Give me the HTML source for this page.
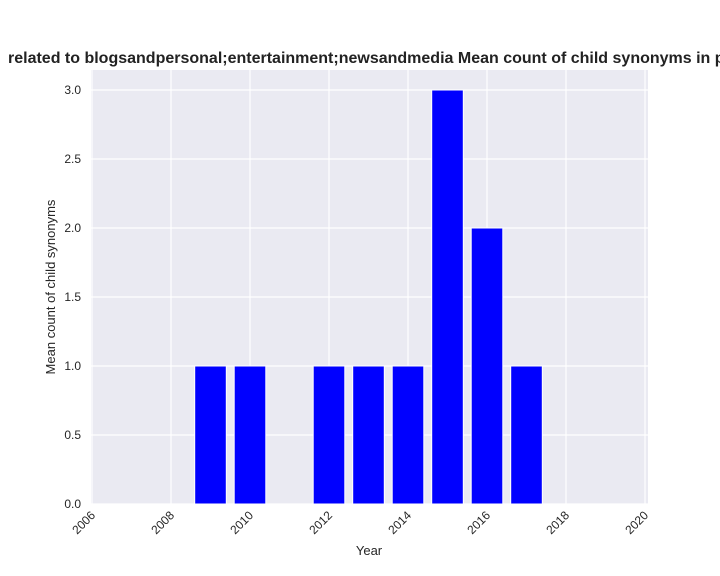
<!DOCTYPE html>
<html><head><meta charset="utf-8"><style>
html,body{margin:0;padding:0;background:#fff;}
svg{display:block;font-family:"Liberation Sans",Arial,sans-serif;}
</style></head><body>
<svg id="chart" width="720" height="576">
<text x="8" y="63" font-size="16" font-weight="bold" fill="#222">related to blogsandpersonal;entertainment;newsandmedia Mean count of child synonyms in per year</text>
<rect x="91" y="70" width="557" height="434" fill="#eaeaf2"/>
<g id="grid"></g>
<g id="bars"></g>
<g id="ticks"></g>
<text x="369" y="555" font-size="13" text-anchor="middle" fill="#262626">Year</text>
<text transform="translate(55,287) rotate(-90)" font-size="13" text-anchor="middle" fill="#262626">Mean count of child synonyms</text>
</svg>
<script>
const years = [2009, 2010, 2012, 2013, 2014, 2015, 2016, 2017];
const values = [1, 1, 1, 1, 1, 3, 2, 1];
const xTicks = [2006, 2008, 2010, 2012, 2014, 2016, 2018, 2020];
const yTicks = [0, 0.5, 1.0, 1.5, 2.0, 2.5, 3.0];
const NS = "http://www.w3.org/2000/svg";
function x(v){ return 92 + (v - 2006) * 39.5; }
function y(v){ return 504 - v * 138; }
const grid = document.getElementById('grid');
const bars = document.getElementById('bars');
const ticks = document.getElementById('ticks');
xTicks.forEach(t => {
  const l = document.createElementNS(NS, 'line');
  l.setAttribute('x1', x(t)); l.setAttribute('x2', x(t));
  l.setAttribute('y1', 70); l.setAttribute('y2', 504);
  l.setAttribute('stroke', '#fff'); l.setAttribute('stroke-width', '1.2');
  
  
  grid.appendChild(l);
  const tx = document.createElementNS(NS, 'text');
  tx.setAttribute('transform', 'translate(' + (x(t) + 4) + ',516) rotate(-45)');
  tx.setAttribute('text-anchor', 'end');
  tx.setAttribute('font-size', '12');
  tx.setAttribute('fill', '#262626');
  tx.textContent = t;
  
  
  ticks.appendChild(tx);
});
yTicks.forEach(t => {
  const l = document.createElementNS(NS, 'line');
  l.setAttribute('x1', 91); l.setAttribute('x2', 648);
  l.setAttribute('y1', y(t)); l.setAttribute('y2', y(t));
  l.setAttribute('stroke', '#fff'); l.setAttribute('stroke-width', '1.2');
  
  
  grid.appendChild(l);
  const tx = document.createElementNS(NS, 'text');
  tx.setAttribute('x', 81); tx.setAttribute('y', y(t) + 4);
  tx.setAttribute('text-anchor', 'end');
  tx.setAttribute('font-size', '12');
  tx.setAttribute('fill', '#262626');
  tx.textContent = t.toFixed(1);
  
  
  ticks.appendChild(tx);
});
years.forEach((yr, i) => {
  const r = document.createElementNS(NS, 'rect');
  const w = 0.8 * 39.5;
  r.setAttribute('x', x(yr) - w / 2);
  r.setAttribute('width', w);
  r.setAttribute('y', y(values[i]));
  r.setAttribute('height', y(0) - y(values[i]));
  r.setAttribute('fill', '#0000ff');
  r.setAttribute('stroke', '#fff');
  r.setAttribute('stroke-width', '1');
  
  
  bars.appendChild(r);
});
</script>
</body></html>
